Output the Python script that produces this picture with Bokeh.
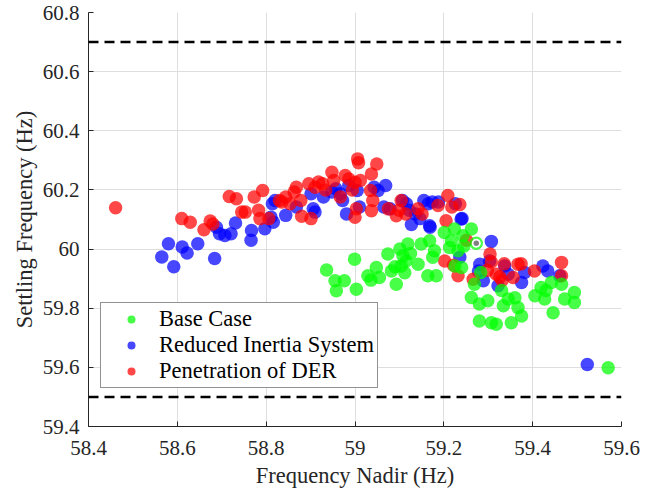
from bokeh.plotting import figure
from bokeh.models import Range1d, FixedTicker, Span, Legend, LegendItem
from bokeh.embed import file_html
from bokeh.resources import INLINE

# ---------------- data ----------------
x_ticks = [58.4, 58.6, 58.8, 59.0, 59.2, 59.4, 59.6]
x_tick_labels = ["58.4", "58.6", "58.8", "59", "59.2", "59.4", "59.6"]
y_ticks = [59.4, 59.6, 59.8, 60.0, 60.2, 60.4, 60.6, 60.8]
y_tick_labels = ["59.4", "59.6", "59.8", "60", "60.2", "60.4", "60.6", "60.8"]
limit_levels = [60.7, 59.5]

base_x = [58.936, 58.955, 58.958, 58.976, 58.999, 59.003, 59.029, 59.036, 59.048, 59.055,
          59.074, 59.082, 59.093, 59.101, 59.108, 59.104, 59.115, 59.119, 59.112, 59.142,
          59.149, 59.168, 59.179, 59.164, 59.183, 59.175, 59.201, 59.217, 59.224, 59.243,
          59.262, 59.213, 59.232, 59.240, 59.273, 59.225, 59.269, 59.283, 59.262, 59.280,
          59.280, 59.307, 59.318, 59.352, 59.375, 59.334, 59.345, 59.367, 59.299, 59.405,
          59.419, 59.442, 59.427, 59.446, 59.472, 59.494, 59.494, 59.465, 59.570, 59.245,
          59.090, 59.125, 59.430, 59.330, 59.360]
base_y = [59.929, 59.893, 59.859, 59.893, 59.966, 59.864, 59.910, 59.895, 59.938, 59.904,
          59.983, 59.926, 59.881, 60.000, 59.977, 59.943, 59.960, 60.017, 59.920, 59.949,
          60.017, 60.028, 59.994, 59.910, 59.910, 59.972, 60.056, 60.028, 60.068, 60.045,
          60.068, 60.005, 59.994, 59.938, 60.020, 59.943, 59.881, 59.921, 59.836, 59.814,
          59.757, 59.751, 59.746, 59.751, 59.774, 59.808, 59.831, 59.802, 59.825, 59.842,
          59.870, 59.887, 59.831, 59.785, 59.831, 59.853, 59.819, 59.881, 59.599, 60.010,
          59.940, 59.985, 59.860, 59.860, 59.835]

reduced_x = [58.565, 58.580, 58.592, 58.611, 58.622, 58.646, 58.684, 58.688, 58.695, 58.707,
             58.721, 58.731, 58.766, 58.767, 58.797, 58.811, 58.814, 58.816, 58.820, 58.844,
             58.868, 58.901, 58.906, 58.910, 58.929, 58.948, 58.957, 58.967, 58.972, 58.981,
             58.986, 59.005, 59.010, 59.043, 59.052, 59.069, 59.065, 59.079, 59.107, 59.116,
             59.122, 59.127, 59.136, 59.146, 59.155, 59.165, 59.169, 59.174, 59.188, 59.226,
             59.241, 59.236, 59.307, 59.281, 59.303, 59.337, 59.345, 59.382, 59.423, 59.434,
             59.461, 59.375, 59.322, 59.289, 59.278, 59.168, 59.239, 59.523]
reduced_y = [59.973, 60.018, 59.940, 60.007, 59.987, 60.018, 59.968, 60.074, 60.052, 60.046,
             60.052, 60.088, 60.030, 60.063, 60.069, 60.108, 60.153, 60.091, 60.164, 60.114,
             60.142, 60.187, 60.136, 60.125, 60.176, 60.193, 60.204, 60.187, 60.164, 60.119,
             60.215, 60.198, 60.142, 60.209, 60.198, 60.215, 60.142, 60.136, 60.164, 60.153,
             60.131, 60.083, 60.119, 60.103, 60.164, 60.153, 60.074, 60.159, 60.159, 60.153,
             60.103, 59.972, 60.026, 59.949, 59.960, 59.943, 59.915, 59.921, 59.943, 59.926,
             59.910, 59.887, 59.876, 59.893, 59.926, 60.079, 60.102, 59.610]

der_x = [58.461, 58.610, 58.629, 58.660, 58.674, 58.680, 58.717, 58.733, 58.745, 58.753,
         58.773, 58.792, 58.783, 58.786, 58.806, 58.830, 58.844, 58.835, 58.854, 58.863,
         58.868, 58.878, 58.880, 58.901, 58.896, 58.910, 58.918, 58.927, 58.934, 58.948,
         58.952, 58.967, 58.978, 58.986, 58.994, 59.000, 59.006, 59.008, 59.012, 59.000,
         59.003, 59.035, 59.037, 59.049, 59.040, 59.037, 59.075, 59.093, 59.099, 59.104,
         59.114, 59.142, 59.151, 59.187, 59.209, 59.218, 59.236, 59.205, 59.202, 59.222,
         59.232, 59.251, 59.266, 59.304, 59.307, 59.318, 59.326, 59.336, 59.367, 59.356,
         59.374, 59.404, 59.465, 59.465, 59.298, 59.331]
der_y = [60.140, 60.103, 60.091, 60.065, 60.095, 60.085, 60.178, 60.170, 60.125, 60.125,
         60.176, 60.198, 60.131, 60.103, 60.103, 60.164, 60.176, 60.159, 60.153, 60.193,
         60.209, 60.164, 60.111, 60.103, 60.221, 60.209, 60.227, 60.221, 60.200, 60.260,
         60.232, 60.176, 60.249, 60.237, 60.200, 60.226, 60.305, 60.292, 60.232, 60.108,
         60.136, 60.198, 60.254, 60.288, 60.164, 60.130, 60.136, 60.113, 60.131, 60.164,
         60.119, 60.136, 60.119, 60.147, 60.181, 60.142, 60.151, 60.096, 59.960, 59.945,
         59.910, 60.030, 59.898, 59.983, 59.956, 59.915, 59.906, 59.950, 59.949, 59.904,
         59.950, 59.926, 59.955, 59.910, 59.928, 59.894]

highlight_x = [59.273]
highlight_y = [60.020]

# ---------------- figure ----------------
TXT = "#262626"
FONT = "Liberation Serif"

p = figure(width=656, height=494, output_backend="svg", toolbar_location=None,
           x_range=Range1d(58.4, 59.6), y_range=Range1d(59.4, 60.8),
           min_border_left=88, min_border_right=35, min_border_top=12, min_border_bottom=68,
           x_axis_label="Frequency Nadir (Hz)", y_axis_label="Settling Frequency (Hz)")
p.outline_line_color = None
p.background_fill_color = "white"

p.xaxis.ticker = FixedTicker(ticks=x_ticks)
p.yaxis.ticker = FixedTicker(ticks=y_ticks)
p.xaxis.major_label_overrides = dict(zip(x_ticks, x_tick_labels))
p.yaxis.major_label_overrides = dict(zip(y_ticks, y_tick_labels))
p.xgrid.ticker = FixedTicker(ticks=x_ticks)
p.ygrid.ticker = FixedTicker(ticks=y_ticks)

for ax in (p.xaxis[0], p.yaxis[0]):
    ax.major_tick_in = 5
    ax.major_tick_out = 0
    ax.minor_tick_line_color = None
    ax.axis_line_color = TXT
    ax.major_tick_line_color = TXT
    ax.major_label_text_font = FONT
    ax.major_label_text_font_size = "21px"
    ax.major_label_text_color = TXT
    ax.axis_label_text_font = FONT
    ax.axis_label_text_font_size = "22.5px"
    ax.axis_label_text_font_style = "normal"
    ax.axis_label_text_color = TXT

p.xaxis.major_label_standoff = 14
p.xaxis.axis_label_standoff = 5
p.yaxis.major_label_standoff = 9
p.yaxis.axis_label_standoff = 3

for g in (p.xgrid[0], p.ygrid[0]):
    g.grid_line_color = "#dedede"
    g.grid_line_width = 1

for lvl in limit_levels:
    p.add_layout(Span(location=lvl, dimension="width", line_color="black",
                      line_width=2.5, line_dash="10 6"))

ALPHA = 0.72
SIZE = 13.5
r_blue = p.scatter(reduced_x, reduced_y, marker="circle", size=SIZE,
                   fill_color="#0000ff", fill_alpha=ALPHA, line_color=None)
r_red = p.scatter(der_x, der_y, marker="circle", size=SIZE,
                  fill_color="#ff0000", fill_alpha=ALPHA, line_color=None)
r_green = p.scatter(base_x, base_y, marker="circle", size=SIZE,
                    fill_color="#00ff00", fill_alpha=ALPHA, line_color=None)
p.scatter(highlight_x, highlight_y, marker="circle", size=9,
          fill_color="white", line_color=None)
p.scatter(highlight_x, highlight_y, marker="circle", size=5.5,
          fill_color="#808080", line_color=None)

legend = Legend(items=[LegendItem(label="Base Case", renderers=[r_green]),
                       LegendItem(label="Reduced Inertia System", renderers=[r_blue]),
                       LegendItem(label="Penetration of DER", renderers=[r_red])],
                location=(12, 38))
legend.border_line_color = TXT
legend.border_line_width = 1
legend.background_fill_color = "white"
legend.background_fill_alpha = 1
legend.label_text_font = FONT
legend.label_text_font_size = "22.5px"
legend.label_text_color = "black"
legend.glyph_width = 54
legend.glyph_height = 20
legend.label_height = 26
legend.label_standoff = 1
legend.padding = 3
legend.spacing = 0
legend.margin = 0
p.add_layout(legend)

open("out.html", "w").write(file_html(p, INLINE))
